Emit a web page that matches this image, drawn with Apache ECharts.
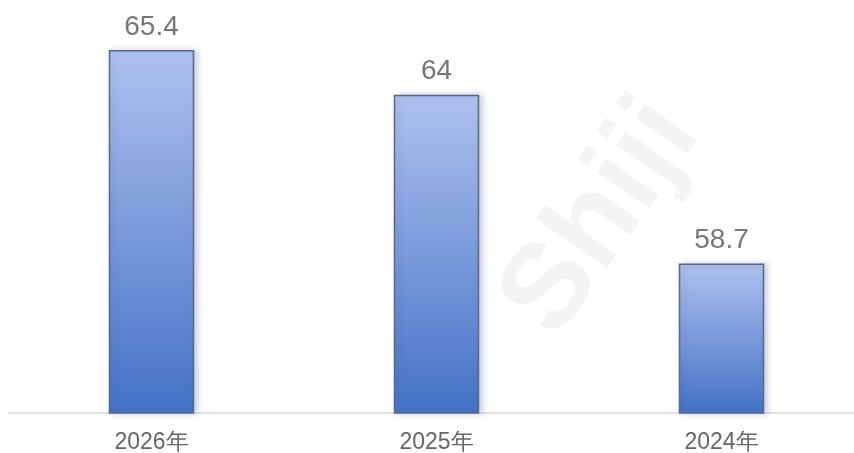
<!DOCTYPE html>
<html><head><meta charset="utf-8">
<script src="https://cdn.jsdelivr.net/npm/echarts@6/dist/echarts.min.js"></script>
<style>html,body{margin:0;padding:0;background:#fff}#c{width:854px;height:453px}</style>
</head><body><div id="c"></div>
<script>
const categories = ['2026年', '2025年', '2024年'];
const values = [65.4, 64, 58.7];

const chart = echarts.init(document.getElementById('c'));
chart.setOption({
  animation: false,
  backgroundColor: '#fff',
  graphic: [{
    type: 'text', left: 480, top: 80, rotation: Math.PI * 55 / 180,
    style: { text: 'Shiji', fontSize: 120, fontWeight: 'bold', fontFamily: 'Liberation Sans', fill: 'rgba(200,200,200,0.2)' },
    z: 0, silent: true
  }],
  grid: { left: 9, width: 855, top: 31, bottom: 40, containLabel: false, outerBoundsMode: 'none' },
  xAxis: {
    type: 'category', data: categories,
    axisLine: { lineStyle: { color: '#d9d9d9', width: 1.5 } },
    axisTick: { show: false },
    axisLabel: { color: '#666', fontSize: 23, margin: 18, fontFamily: 'Liberation Sans' }
  },
  yAxis: { type: 'value', min: 54, max: 66, show: false, splitLine: { show: false } },
  series: [{
    type: 'bar', data: values, barWidth: '30%', z: 3,
    itemStyle: {
      color: new echarts.graphic.LinearGradient(0, 0, 0, 1, [
        { offset: 0, color: '#afc1ef' },
        { offset: 1, color: '#4472c6' }
      ]),
      borderColor: '#5a6785', borderWidth: 1.5,
      shadowColor: 'rgba(60,80,140,0.25)', shadowBlur: 6, shadowOffsetX: 3, shadowOffsetY: 0
    },
    label: { show: true, position: 'top', distance: 9, color: '#777', fontSize: 28, fontFamily: 'Liberation Sans' }
  }]
});
</script></body></html>
